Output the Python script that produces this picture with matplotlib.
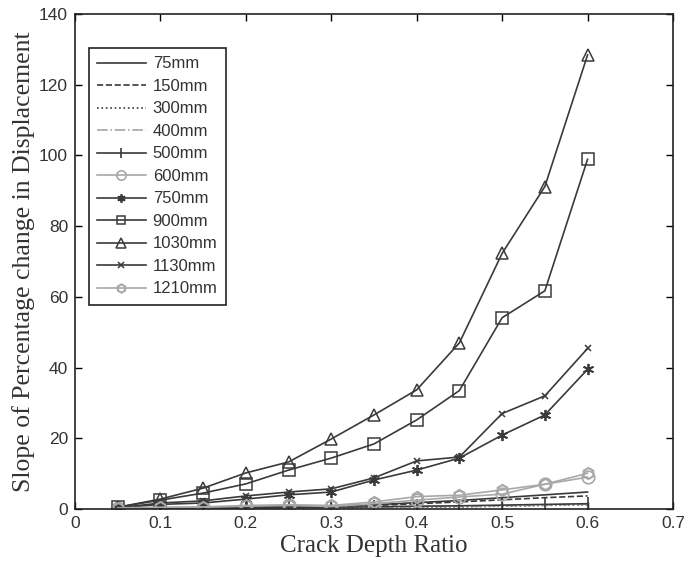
import matplotlib
matplotlib.use("Agg")
import matplotlib.pyplot as plt

x = [0.05, 0.10, 0.15, 0.20, 0.25, 0.30, 0.35, 0.40, 0.45, 0.50, 0.55, 0.60]

s75 = [0.1, 0.2, 0.3, 0.5, 0.7, 0.9, 1.2, 1.8, 2.4, 3.2, 4.0, 4.8]
s150 = [0.1, 0.2, 0.3, 0.4, 0.6, 0.8, 1.0, 1.5, 2.0, 2.6, 3.2, 3.7]
s300 = [0.05, 0.1, 0.1, 0.2, 0.2, 0.3, 0.4, 0.5, 0.6, 0.8, 1.0, 1.2]
s400 = [0.05, 0.1, 0.1, 0.2, 0.3, 0.3, 0.4, 0.6, 0.7, 0.9, 1.1, 1.3]
s500 = [0.1, 0.2, 0.3, 0.3, 0.4, 0.5, 0.6, 0.8, 0.9, 1.1, 1.3, 1.5]
s600 = [0.3, 0.4, 0.5, 0.8, 1.0, 0.7, 1.5, 2.5, 3.4, 4.2, 7.0, 9.0]
s750 = [0.3, 1.3, 1.7, 2.8, 4.0, 4.8, 8.2, 11.0, 14.4, 20.9, 26.6, 39.5]
s900 = [0.5, 2.5, 4.5, 7.1, 11.0, 14.4, 18.4, 25.2, 33.5, 54.1, 61.7, 98.9]
s1030 = [0.5, 2.8, 5.9, 10.2, 13.3, 19.8, 26.6, 33.7, 47.0, 72.3, 91.2, 128.4]
s1130 = [0.3, 1.7, 2.3, 3.7, 4.8, 5.7, 8.8, 13.6, 14.7, 27.0, 32.0, 45.4]
s1210 = [0.3, 0.5, 0.6, 1.0, 1.2, 1.0, 2.0, 3.5, 3.9, 5.4, 7.0, 10.1]

labels = ["75mm", "150mm", "300mm", "400mm", "500mm", "600mm",
          "750mm", "900mm", "1030mm", "1130mm", "1210mm"]

xticks = [0, 0.1, 0.2, 0.3, 0.4, 0.5, 0.6, 0.7]
xticklabels = ["0", "0.1", "0.2", "0.3", "0.4", "0.5", "0.6", "0.7"]
yticks = [0, 20, 40, 60, 80, 100, 120, 140]

dark = "#3a3a3a"
light = "#a8a8a8"

styles = [
    (s75, dict(color=dark, ls="-", marker=None)),
    (s150, dict(color=dark, ls="--", marker=None)),
    (s300, dict(color=dark, ls=":", marker=None)),
    (s400, dict(color=light, ls="-.", marker=None)),
    (s500, dict(color=dark, ls="-", marker="|", ms=10, mew=1.2)),
    (s600, dict(color=light, ls="-", marker="o", ms=9, mfc="none", mew=1.2)),
    (s750, dict(color=dark, ls="-", marker=(6, 2, 0), ms=8, mew=1.3)),
    (s900, dict(color=dark, ls="-", marker="s", ms=8, mfc="none", mew=1.1)),
    (s1030, dict(color=dark, ls="-", marker="^", ms=9, mfc="none", mew=1.1)),
    (s1130, dict(color=dark, ls="-", marker="x", ms=5, mew=1.1)),
    (s1210, dict(color=light, ls="-", marker="h", ms=8, mfc="none", mew=1.5)),
]

fig = plt.figure(figsize=(6.84, 5.67), dpi=100)
ax = fig.add_axes([0.1096, 0.1023, 0.8743, 0.873])

for (ys, st), lab in zip(styles, labels):
    ax.plot(x, ys, lw=1.2, label=lab, **st)

ax.set_xlim(0, 0.7)
ax.set_ylim(0, 140)
ax.set_xticks(xticks)
ax.set_xticklabels(xticklabels)
ax.set_yticks(yticks)
ax.tick_params(direction="in", top=True, right=True, length=5, width=1,
               labelsize=12.5, pad=5)
for lbl in ax.get_xticklabels() + ax.get_yticklabels():
    lbl.set_fontfamily("Liberation Sans")
    lbl.set_color("#333333")
for sp in ax.spines.values():
    sp.set_linewidth(1.2)
    sp.set_color("#222222")

ax.set_xlabel("Crack Depth Ratio", fontfamily="Liberation Serif",
              fontsize=18, color="#333333", labelpad=3)
ax.set_ylabel("Slope of Percentage change in Displacement",
              fontfamily="Liberation Serif", fontsize=18.5, color="#333333",
              labelpad=3)

leg = ax.legend(loc="upper left", bbox_to_anchor=(0.0234, 0.931),
                borderaxespad=0, fancybox=False, edgecolor="#222222",
                framealpha=1, handlelength=2.9, labelspacing=0.45,
                handletextpad=0.42, borderpad=0.5, markerscale=0.75,
                prop={"family": "Liberation Sans", "size": 12})
leg.get_frame().set_linewidth(1.2)
for t in leg.get_texts():
    t.set_color("#333333")

fig.savefig("out.png", dpi=100)
